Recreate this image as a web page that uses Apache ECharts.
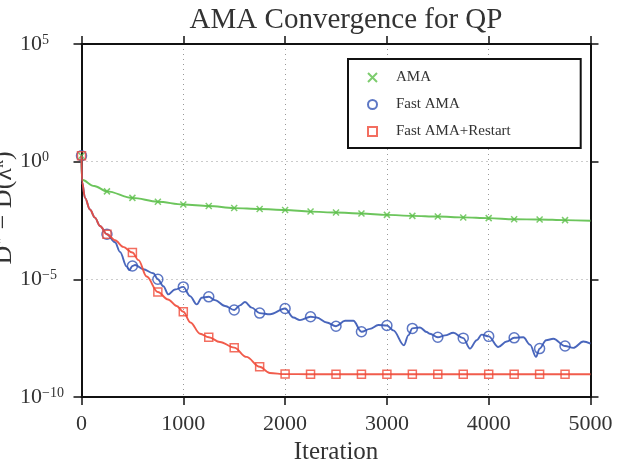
<!DOCTYPE html>
<html><head><meta charset="utf-8">
<script src="https://cdn.jsdelivr.net/npm/echarts@6/dist/echarts.min.js"></script>
<style>html,body{margin:0;padding:0;background:#fff}#c{width:625px;height:470px}</style>
</head><body><div id="c"></div>
<script>
const titleText = 'AMA Convergence for QP';
const xAxisName = 'Iteration';
const yAxisLabel = 'D{s|⋆} − D(λ{s|k})';
const seriesNames = ['AMA', 'Fast AMA', 'Fast AMA+Restart'];
const xTicks = [0, 1000, 2000, 3000, 4000, 5000];
const xTickLabels = ['0', '1000', '2000', '3000', '4000', '5000'];
const yTickValues = [1e-10, 1e-5, 1, 1e5];
const yTickExponents = ['−10', '−5', '0', '5'];

// marker positions (every 250 iterations)
const markerIter = [0,250,500,750,1000,1250,1500,1750,2000,2250,2500,2750,3000,3250,3500,3750,4000,4250,4500,4750];
const amaMarkerVal = [1.78,5.5e-2,2.9e-2,2.0e-2,1.51e-2,1.32e-2,1.07e-2,9.8e-3,8.9e-3,7.6e-3,6.9e-3,6.3e-3,5.5e-3,5.0e-3,4.7e-3,4.3e-3,4.0e-3,3.6e-3,3.5e-3,3.3e-3];
const fastMarkerVal = [1.78,8.3e-4,3.7e-5,1.02e-5,4.8e-6,1.82e-6,5.0e-7,3.7e-7,5.8e-7,2.6e-7,1.02e-7,6.0e-8,1.10e-7,8.3e-8,3.5e-8,3.2e-8,3.8e-8,3.3e-8,1.15e-8,1.48e-8];
const restartMarkerVal = [1.78,8.3e-4,1.38e-4,2.9e-6,4.2e-7,3.5e-8,1.26e-8,1.95e-9,9.5e-10,9.4e-10,9.4e-10,9.4e-10,9.4e-10,9.4e-10,9.4e-10,9.4e-10,9.4e-10,9.4e-10,9.4e-10,9.4e-10];

// traced curves
const amaLineIter = [0,3,125,250,500,750,1000,1250,1500,1750,2000,2250,2500,2750,3000,3250,3500,3750,4000,4250,4500,4750,5000];
const amaLineVal = [1.78,1.7e-1,9.3e-2,5.5e-2,2.9e-2,2.0e-2,1.51e-2,1.32e-2,1.07e-2,9.8e-3,8.9e-3,7.6e-3,6.9e-3,6.3e-3,5.5e-3,5.0e-3,4.7e-3,4.3e-3,4.0e-3,3.6e-3,3.5e-3,3.3e-3,3.1e-3];

const fastLineIter = [0,5,35,83,132,182,250,329,378,444,470,500,526,607,705,750,804,853,918,1000,1066,1132,1181,1250,1311,1410,1500,1557,1606,1672,1750,1852,2000,2081,2146,2250,2310,2409,2500,2589,2670,2750,2834,2916,3000,3063,3168,3210,3250,3325,3391,3423,3500,3571,3652,3750,3816,3882,3931,4000,4094,4177,4250,4340,4406,4465,4500,4564,4635,4750,4831,4929,5000];
const fastLineVal = [1.78,1.4e-1,2.9e-2,9.3e-3,4.2e-3,1.86e-3,8.3e-4,3.8e-4,1.48e-4,3.5e-5,2.5e-5,3.7e-5,4.1e-5,2.7e-5,1.82e-5,1.02e-5,5.1e-6,2.3e-6,3.7e-6,4.8e-6,1.95e-6,8.7e-7,1.66e-6,1.82e-6,1.32e-6,7.4e-7,5.0e-7,7.9e-7,1.10e-6,6.3e-7,3.7e-7,3.3e-7,5.8e-7,2.4e-7,1.86e-7,2.6e-7,2.4e-7,1.48e-7,1.02e-7,1.74e-7,1.74e-7,6.0e-8,7.9e-8,1.15e-7,1.10e-7,6.8e-8,1.58e-8,4.2e-8,8.3e-8,9.1e-8,5.8e-8,4.9e-8,3.5e-8,4.2e-8,5.4e-8,3.2e-8,1.15e-8,2.6e-8,4.5e-8,3.8e-8,1.35e-8,2.3e-8,3.3e-8,3.5e-8,1.70e-8,5.1e-9,1.15e-8,2.6e-8,3.0e-8,1.48e-8,1.23e-8,2.3e-8,1.86e-8];

const restartLineIter = [0,5,35,83,132,182,250,330,410,500,560,640,750,850,935,1000,1070,1165,1250,1360,1500,1620,1750,1850,2000,2250,2500,2750,3000,3250,3500,3750,4000,4250,4500,4750,5000];
const restartLineVal = [1.78,1.4e-1,2.9e-2,9.3e-3,4.2e-3,1.86e-3,8.3e-4,4.6e-4,2.4e-4,1.38e-4,6.6e-5,1.32e-5,2.9e-6,1.41e-6,7.4e-7,4.2e-7,1.48e-7,4.9e-8,3.5e-8,2.2e-8,1.26e-8,5.1e-9,1.95e-9,1.05e-9,9.5e-10,9.4e-10,9.4e-10,9.4e-10,9.4e-10,9.4e-10,9.4e-10,9.4e-10,9.4e-10,9.4e-10,9.4e-10,9.4e-10,9.4e-10];

const colors = { ama: '#5cbf4a', fast: '#3555b5', restart: '#f04a38' };
const serif = 'Liberation Serif';
const zip = (xs, ys) => xs.map((x, i) => [x, ys[i]]);

const chart = echarts.init(document.getElementById('c'), null, { renderer: 'canvas' });

const lineSeries = (name, xs, ys, color) => ({
  name: name + ' curve', type: 'line', data: zip(xs, ys), showSymbol: false, symbol: 'none',
  smooth: 0.35, smoothMonotone: 'x', xAxisIndex: 0, yAxisIndex: 0,
  lineStyle: { color, width: 1.9, opacity: 0.9 }, silent: true, animation: false
});
const markerSeries = (name, ys, color, symbol, size) => ({
  name, type: 'scatter', data: zip(markerIter, ys), symbol, symbolSize: size,
  xAxisIndex: 0, yAxisIndex: 0,
  itemStyle: { color: 'transparent', borderColor: color, borderWidth: 1.5 }, animation: false
});

const yFmt = v => {
  const i = yTickValues.findIndex(t => Math.abs(Math.log10(t) - Math.log10(v)) < 1e-6);
  return i < 0 ? '' : '{b|10}{s|' + yTickExponents[i] + '}';
};
const xFmt = v => {
  const i = xTicks.indexOf(v);
  return i < 0 ? '' : xTickLabels[i];
};

chart.setOption({
  backgroundColor: '#fff',
  animation: false,
  title: {
    text: titleText, left: 341, top: 1, textAlign: 'center',
    textStyle: { fontFamily: serif, fontSize: 29, fontWeight: 'normal', color: '#333' }
  },
  graphic: [{
    type: 'text', x: 17, y: 208, rotation: Math.PI / 2,
    style: {
      text: yAxisLabel, fontFamily: serif, fontSize: 26, fill: '#333',
      align: 'center', verticalAlign: 'bottom',
      rich: { s: { fontSize: 16, verticalAlign: 'top', fontFamily: serif, fill: '#333' } }
    }
  }],
  legend: {
    orient: 'vertical', left: 348, top: 59,
    data: seriesNames,
    backgroundColor: '#fff', borderColor: '#111', borderWidth: 2, borderRadius: 0,
    padding: [11, 70, 9, 19], itemGap: 12, itemWidth: 9, itemHeight: 9, itemTextGap: 5,
    textStyle: { fontFamily: serif, fontSize: 15, color: '#333', lineHeight: 15, padding: [0, 0, 0, 14] }
  },
  grid: { left: 81.5, right: 34.5, top: 44, bottom: 66.5 },
  xAxis: [{
    type: 'value', min: xTicks[0], max: xTicks[xTicks.length - 1], interval: xTicks[1] - xTicks[0],
    name: xAxisName, nameLocation: 'middle', nameGap: 37,
    nameTextStyle: { fontFamily: serif, fontSize: 25, color: '#333' },
    axisLine: { show: true, onZero: false, lineStyle: { color: '#111', width: 2 } },
    axisTick: { show: true, inside: false, length: 8, lineStyle: { color: '#111', width: 1.5 } },
    axisLabel: { margin: 16, fontFamily: serif, fontSize: 22, color: '#333', formatter: xFmt },
    splitLine: { show: true, lineStyle: { type: [1, 4], color: '#999', width: 1 } }
  }, {
    type: 'value', position: 'top', min: xTicks[0], max: xTicks[xTicks.length - 1], interval: xTicks[1] - xTicks[0],
    axisLine: { show: true, onZero: false, lineStyle: { color: '#111', width: 2 } },
    axisTick: { show: true, inside: false, length: 8, lineStyle: { color: '#111', width: 1.5 } },
    axisLabel: { show: false }, splitLine: { show: false }
  }],
  yAxis: [{
    type: 'log', logBase: 10, min: yTickValues[0], max: yTickValues[yTickValues.length - 1], interval: 5,
    axisLine: { show: true, onZero: false, lineStyle: { color: '#111', width: 2 } },
    axisTick: { show: true, inside: false, length: 8, lineStyle: { color: '#111', width: 1.5 } },
    minorTick: { show: false },
    axisLabel: {
      align: 'left', margin: 61.5, formatter: yFmt, color: '#333',
      rich: {
        b: { fontFamily: serif, fontSize: 22, color: '#333' },
        s: { fontFamily: serif, fontSize: 14, color: '#333', verticalAlign: 'top' }
      }
    },
    splitLine: { show: true, lineStyle: { type: [1, 4], color: '#999', width: 1 } }
  }, {
    type: 'log', logBase: 10, position: 'right', min: yTickValues[0], max: yTickValues[yTickValues.length - 1], interval: 5,
    axisLine: { show: true, onZero: false, lineStyle: { color: '#111', width: 2 } },
    axisTick: { show: true, inside: false, length: 8, lineStyle: { color: '#111', width: 1.5 } },
    axisLabel: { show: false }, splitLine: { show: false }
  }],
  series: [
    lineSeries(seriesNames[0], amaLineIter, amaLineVal, colors.ama),
    markerSeries(seriesNames[0], amaMarkerVal, colors.ama, 'path://M0,0L10,10M10,0L0,10', 6),
    lineSeries(seriesNames[1], fastLineIter, fastLineVal, colors.fast),
    markerSeries(seriesNames[1], fastMarkerVal, colors.fast, 'circle', 10),
    lineSeries(seriesNames[2], restartLineIter, restartLineVal, colors.restart),
    markerSeries(seriesNames[2], restartMarkerVal, colors.restart, 'rect', 8)
  ]
});
</script>
</body></html>
